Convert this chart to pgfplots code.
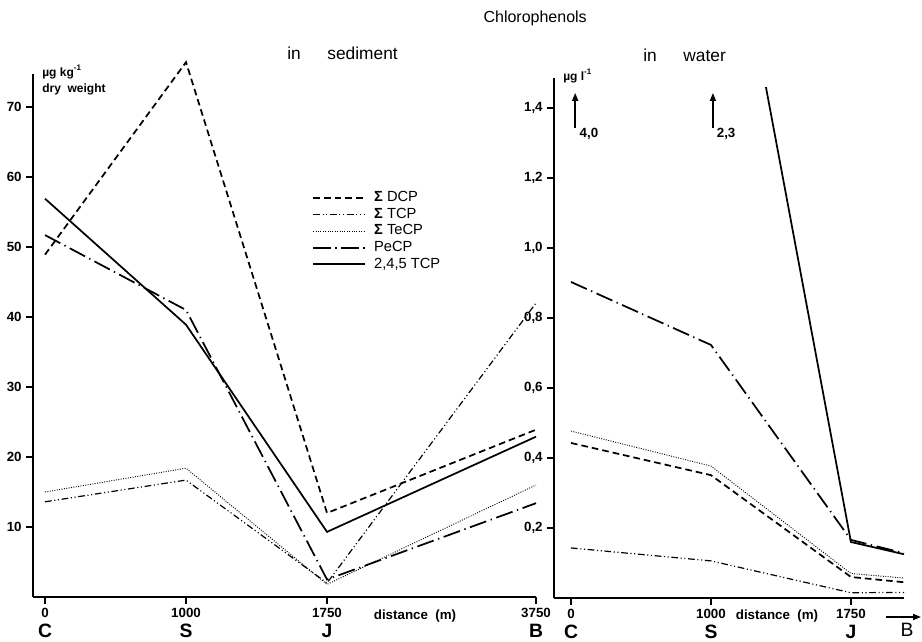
\documentclass[border=0pt]{standalone}
\usepackage{pgfplots}
\pgfplotsset{compat=1.18}
\usepackage{fontspec}
\setmainfont{Liberation Sans}
\usetikzlibrary{arrows.meta}

% series styles
\pgfplotsset{
  dcp/.style={black, line width=1.3pt, dash pattern=on 5pt off 3pt},
  tcp/.style={black, line width=0.9pt, dash pattern=on 5pt off 2pt on 0.8pt off 2pt on 0.8pt off 2pt},
  tecp/.style={black, line width=0.7pt, dash pattern=on 0.7pt off 1.1pt},
  pecp/.style={black, line width=1.3pt, dash pattern=on 13pt off 3.5pt on 1pt off 3.5pt},
  tcpb/.style={black, line width=1.3pt},
  chl/.style={
    scale only axis, axis lines=left,
    axis line style={-, line width=1.2pt},
    tick style={line width=1.1pt, black}, tick align=outside, major tick length=5pt,
    ymin=0,
    /pgf/number format/assume math mode=true,
    tick label style={font=\fontsize{10}{11}\selectfont\bfseries},
    xticklabel style={align=center, inner sep=1pt, yshift=-2pt},
  },
}
\newcommand{\xl}[2]{{\fontsize{10}{10}\selectfont\bfseries #1}\\[4pt]{\fontsize{14.5}{14.5}\selectfont #2}}

\begin{document}
\begin{tikzpicture}
\begin{scope}[x=0.75pt,y=-0.75pt]
  \path (0,0) rectangle (922,642);
\end{scope}

% ---- sediment ----
\begin{axis}[chl,
  at={(24.75pt,-447.75pt)}, anchor=south west,
  width=377.25pt, height=392.25pt,
  xmin=-0.0851, xmax=3.482, ymax=74.71,
  xtick={0,1,2,3.482},
  xticklabels={\xl{0}{C},\xl{1000}{S},\xl{1750}{J},\xl{3750}{B}},
  ytick={10,20,30,40,50,60,70},
  clip=false,
  legend cell align=left,
  legend image code/.code={\draw[#1] (0pt,0pt) -- (39pt,0pt); \path (44pt,0pt);},
  legend style={at={(0.555,0.78)}, anchor=north west, draw=none, fill=none,
    font=\fontsize{11}{11}\selectfont, row sep=0pt, inner sep=0pt,
    nodes={inner sep=1pt, text height=8pt, text depth=2.5pt}},
]
\addplot[dcp] coordinates {(0,48.9) (1,76.4) (2,12.0) (3.482,23.9)};
\addlegendentry{{\bfseries Σ} DCP}
\addplot[tcp] coordinates {(0,13.6) (1,16.7) (2,2.0) (3.482,42.0)};
\addlegendentry{{\bfseries Σ} TCP}
\addplot[tecp] coordinates {(0,15.0) (1,18.4) (2,1.8) (3.482,16.0)};
\addlegendentry{{\bfseries Σ} TeCP}
\addplot[pecp] coordinates {(0,51.7) (1,41.0) (2,2.5) (3.482,13.4)};
\addlegendentry{PeCP}
\addplot[tcpb] coordinates {(0,56.9) (1,38.9) (2,9.3) (3.482,22.9)};
\addlegendentry{2,4,5 TCP}
\end{axis}

% ---- water ----
\begin{axis}[chl,
  at={(415.5pt,-448.5pt)}, anchor=south west,
  width=262.5pt, height=383.25pt,
  xmin=-0.1214, xmax=2.379, ymax=1.46,
  y axis line style={shorten >=-6.75pt},
  xtick={0,1,2},
  xticklabels={\xl{0}{C},\xl{1000}{S},\xl{1750}{J}},
  ytick={0.2,0.4,0.6,0.8,1.0,1.2,1.4},
  yticklabel style={/pgf/number format/.cd, use comma, fixed, fixed zerofill, precision=1},
  clip=true,
]
\addplot[dcp] coordinates {(0,0.443) (1,0.351) (2,0.060) (2.379,0.045)};
\addplot[tcp] coordinates {(0,0.143) (1,0.106) (2,0.015) (2.379,0.016)};
\addplot[tecp] coordinates {(0,0.477) (1,0.377) (2,0.070) (2.379,0.057)};
\addplot[pecp] coordinates {(0,0.903) (1,0.723) (2,0.166) (2.379,0.128)};
\addplot[tcpb] coordinates {(0,4.0) (1,2.3) (2,0.16) (2.379,0.125)};
\draw[-{Triangle[length=6pt,width=4.5pt]}, line width=1.2pt] (axis cs:0.03,1.343) -- (axis cs:0.03,1.443);
\node[anchor=west, inner sep=0pt, font=\fontsize{10}{10}\selectfont\bfseries] at (axis cs:0.06,1.325) {4,0};
\draw[-{Triangle[length=6pt,width=4.5pt]}, line width=1.2pt] (axis cs:1.014,1.343) -- (axis cs:1.014,1.443);
\node[anchor=west, inner sep=0pt, font=\fontsize{10}{10}\selectfont\bfseries] at (axis cs:1.04,1.325) {2,3};
\end{axis}

% ---- titles and labels ----
\begin{scope}[x=0.75pt,y=-0.75pt]
  \node[anchor=east, inner sep=0pt, font=\fontsize{12}{12}\selectfont] at (587,18) {Chlorophenols};
  \node[anchor=west, inner sep=0pt, font=\fontsize{13}{13}\selectfont] at (287,53) {in\hspace{20pt}sediment};
  \node[anchor=west, inner sep=0pt, font=\fontsize{13}{13}\selectfont] at (643,55) {in\hspace{20pt}water};
  \node[anchor=west, inner sep=0pt, font=\fontsize{9}{9}\selectfont\bfseries] at (42,72) {µg kg\textsuperscript{-1}};
  \node[anchor=west, inner sep=0pt, font=\fontsize{9}{9}\selectfont\bfseries] at (42,89) {dry\ \ weight};
  \node[anchor=west, inner sep=0pt, font=\fontsize{9}{9}\selectfont\bfseries] at (563,76) {µg l\textsuperscript{-1}};
  \node[inner sep=0pt, font=\fontsize{10}{10}\selectfont\bfseries] at (415,616) {distance\ \ (m)};
  \node[inner sep=0pt, font=\fontsize{10}{10}\selectfont\bfseries] at (777,616) {distance\ \ (m)};
  \draw[-{Triangle[length=6pt,width=4.5pt]}, line width=1.2pt] (886,617) -- (921,617);
  \node[inner sep=0pt, font=\fontsize{14.5}{14.5}\selectfont] at (907,630) {B};
\end{scope}
\end{tikzpicture}
\end{document}
